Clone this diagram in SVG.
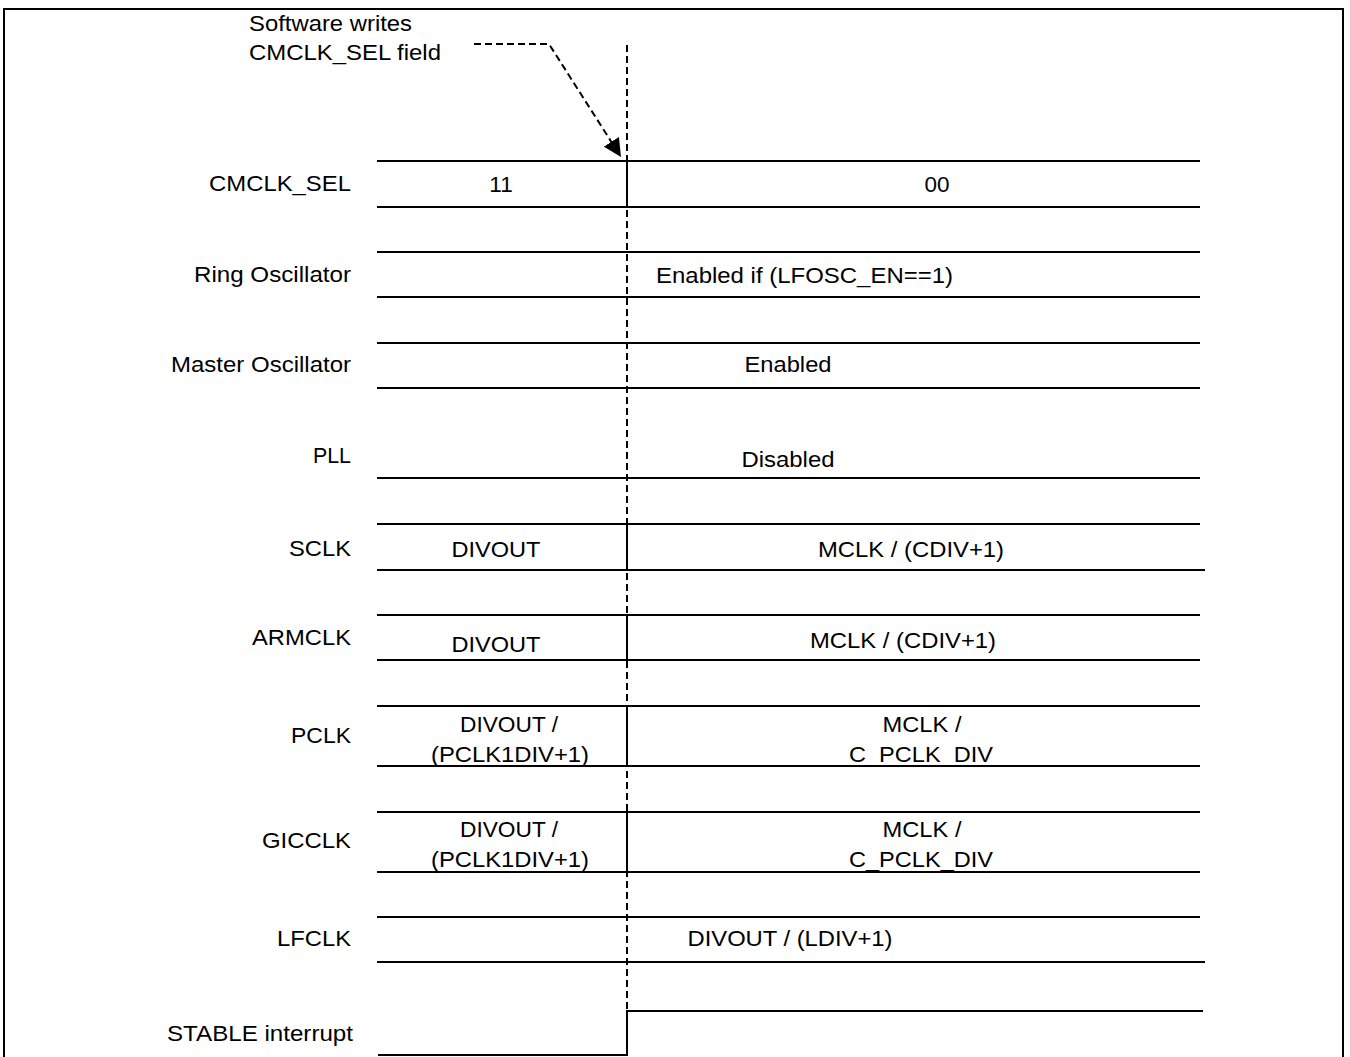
<svg xmlns="http://www.w3.org/2000/svg" width="1350" height="1057" viewBox="0 0 1350 1057">
<style>
text{font-family:"Liberation Sans",Arial,sans-serif;font-size:22.5px;fill:#000}
.l{text-anchor:end}
.c{text-anchor:middle}
.s{stroke:#000;stroke-width:2;fill:none}
.d{stroke:#000;stroke-width:2;fill:none;stroke-dasharray:7 4}
</style>
<defs>
<marker id="ah2" viewBox="0 0 10 10" refX="10" refY="5" markerWidth="18" markerHeight="18" orient="auto" markerUnits="userSpaceOnUse"><path d="M0,0 L10,5 L0,10 z" fill="#000"/></marker>
</defs>
<rect width="1350" height="1057" fill="#fff"/>
<g id="frame"><path class="s" d="M4,1057 V9 H1343 V1057" stroke-width="2.4"/></g>
<g id="note"><text x="249" y="31" textLength="163" lengthAdjust="spacingAndGlyphs">Software writes</text><text x="249" y="60" textLength="192" lengthAdjust="spacingAndGlyphs">CMCLK_SEL field</text></g>
<g id="connectors">
<line class="d" x1="627" y1="45" x2="627" y2="1011"/>
<path class="d" d="M474,44 H549 L621,157" marker-end="url(#ah2)"/>
</g>
<g id="cmclk_sel"><text class="l" x="351" y="191" textLength="142" lengthAdjust="spacingAndGlyphs">CMCLK_SEL</text><path class="s" d="M377,161 H1200 M377,207 H1200 M627,161 V207"/><text class="c" x="501" y="192">11</text><text class="c" x="937" y="192">00</text></g>
<g id="ring"><text class="l" x="351" y="282" textLength="157" lengthAdjust="spacingAndGlyphs">Ring Oscillator</text><path class="s" d="M377,252 H1200 M377,297 H1200"/><text x="656" y="283" textLength="297" lengthAdjust="spacingAndGlyphs">Enabled if (LFOSC_EN==1)</text></g>
<g id="master"><text class="l" x="351" y="372" textLength="180" lengthAdjust="spacingAndGlyphs">Master Oscillator</text><path class="s" d="M377,343 H1200 M377,388 H1200"/><text class="c" x="788" y="372" textLength="87" lengthAdjust="spacingAndGlyphs">Enabled</text></g>
<g id="pll"><text class="l" x="351" y="463" textLength="38" lengthAdjust="spacingAndGlyphs">PLL</text><path class="s" d="M377,478 H1200"/><text class="c" x="788" y="467" textLength="93" lengthAdjust="spacingAndGlyphs">Disabled</text></g>
<g id="sclk"><text class="l" x="351" y="556" textLength="62" lengthAdjust="spacingAndGlyphs">SCLK</text><path class="s" d="M377,524 H1200 M377,570 H1205 M627,524 V570"/><text class="c" x="496" y="557" textLength="89" lengthAdjust="spacingAndGlyphs">DIVOUT</text><text class="c" x="911" y="557" textLength="186" lengthAdjust="spacingAndGlyphs">MCLK / (CDIV+1)</text></g>
<g id="armclk"><text class="l" x="351" y="645" textLength="99" lengthAdjust="spacingAndGlyphs">ARMCLK</text><path class="s" d="M377,615 H1200 M377,660 H1200 M627,615 V660"/><text class="c" x="496" y="652" textLength="89" lengthAdjust="spacingAndGlyphs">DIVOUT</text><text class="c" x="903" y="648" textLength="186" lengthAdjust="spacingAndGlyphs">MCLK / (CDIV+1)</text></g>
<g id="pclk"><text class="l" x="351" y="743" textLength="60" lengthAdjust="spacingAndGlyphs">PCLK</text><path class="s" d="M377,706 H1200 M377,766 H1200 M627,706 V766"/><text class="c" x="509" y="732" textLength="98" lengthAdjust="spacingAndGlyphs">DIVOUT /</text><text class="c" x="510" y="762" textLength="158" lengthAdjust="spacingAndGlyphs">(PCLK1DIV+1)</text><text class="c" x="922" y="732" textLength="79" lengthAdjust="spacingAndGlyphs">MCLK /</text><text class="c" x="921" y="762" textLength="144" lengthAdjust="spacingAndGlyphs">C_PCLK_DIV</text></g>
<g id="gicclk"><text class="l" x="351" y="848" textLength="89" lengthAdjust="spacingAndGlyphs">GICCLK</text><path class="s" d="M377,812 H1200 M377,872 H1200 M627,812 V872"/><text class="c" x="509" y="837" textLength="98" lengthAdjust="spacingAndGlyphs">DIVOUT /</text><text class="c" x="510" y="867" textLength="158" lengthAdjust="spacingAndGlyphs">(PCLK1DIV+1)</text><text class="c" x="922" y="837" textLength="79" lengthAdjust="spacingAndGlyphs">MCLK /</text><text class="c" x="921" y="867" textLength="144" lengthAdjust="spacingAndGlyphs">C_PCLK_DIV</text></g>
<g id="lfclk"><text class="l" x="351" y="946" textLength="74" lengthAdjust="spacingAndGlyphs">LFCLK</text><path class="s" d="M377,917 H1200 M377,962 H1205"/><text class="c" x="790" y="946" textLength="205" lengthAdjust="spacingAndGlyphs">DIVOUT / (LDIV+1)</text></g>
<g id="stable"><text class="l" x="353" y="1041" textLength="186" lengthAdjust="spacingAndGlyphs">STABLE interrupt</text><path class="s" d="M378,1055 H627 V1011 H1203"/></g>
</svg>
